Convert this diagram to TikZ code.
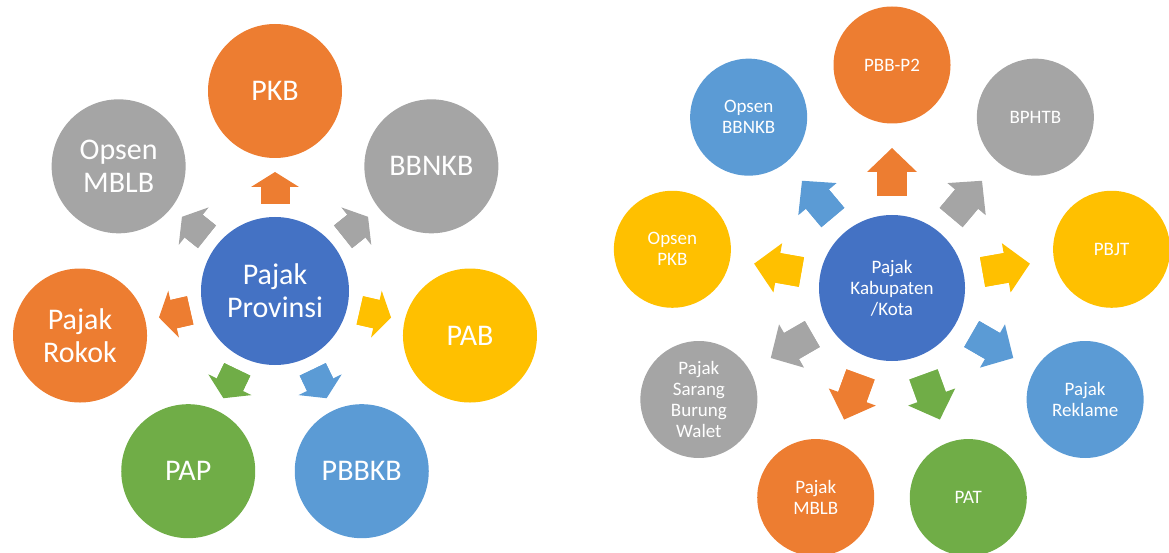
\documentclass[tikz,border=0pt]{standalone}
\usepackage{fontspec}
\setmainfont{Carlito}
\usetikzlibrary{calc,arrows.meta}

\definecolor{hubblue}{HTML}{4472C4}
\definecolor{taxorange}{HTML}{ED7D31}
\definecolor{taxgray}{HTML}{A5A5A5}
\definecolor{taxyellow}{HTML}{FFC000}
\definecolor{taxblue}{HTML}{5B9BD5}
\definecolor{taxgreen}{HTML}{70AD47}

\begin{document}
\begin{tikzpicture}[x=1pt,y=1pt,
  hub/.style={circle, fill=hubblue, text=white, align=center, inner sep=0pt},
  tax/.style={circle, text=white, align=center, inner sep=0pt},
  bigtext/.style={font=\fontsize{30}{33}\selectfont},
  smalltext/.style={font=\fontsize{19}{21}\selectfont},
  push/.style={line width=29pt, -{Triangle[length=15pt,width=48pt,line width=0pt]},
    postaction={draw, -, shorten >=12pt}},
  widepush/.style={line width=30pt, -{Triangle[length=24pt,width=50pt,line width=0pt]},
    postaction={draw, -, shorten >=19pt}}]

\useasboundingbox (0,0) rectangle (1169,552);

% Left ring: provincial taxes, seven circles round the hub
\node[hub, bigtext, minimum size=148pt] (prov) at (275,261) {Pajak\\Provinsi};

\node[tax, bigtext, minimum size=134pt, fill=taxorange] (pkb) at ($(prov)+(90:200)$) {PKB};
\node[tax, bigtext, minimum size=134pt, fill=taxgray] (bbnkb) at ($(prov)+(38.57:200)$) {BBNKB};
\node[tax, bigtext, minimum size=134pt, fill=taxyellow] (pab) at ($(prov)+(-12.86:200)$) {PAB};
\node[tax, bigtext, minimum size=134pt, fill=taxblue] (pbbkb) at ($(prov)+(-64.29:200)$) {PBBKB};
\node[tax, bigtext, minimum size=134pt, fill=taxgreen] (pap) at ($(prov)+(-115.71:200)$) {PAP};
\node[tax, bigtext, minimum size=134pt, fill=taxorange] (rokok) at ($(prov)+(-167.14:200)$) {Pajak\\Rokok};
\node[tax, bigtext, minimum size=134pt, fill=taxgray] (opmblb) at ($(prov)+(141.43:200)$) {Opsen\\MBLB};

\draw[push, taxorange] ($(prov)!87pt!(pkb)$) -- ($(prov)!119pt!(pkb)$);
\draw[push, taxgray] ($(prov)!87pt!(bbnkb)$) -- ($(prov)!119pt!(bbnkb)$);
\draw[push, taxyellow] ($(prov)!87pt!(pab)$) -- ($(prov)!119pt!(pab)$);
\draw[push, taxblue] ($(prov)!87pt!(pbbkb)$) -- ($(prov)!119pt!(pbbkb)$);
\draw[push, taxgreen] ($(prov)!87pt!(pap)$) -- ($(prov)!119pt!(pap)$);
\draw[push, taxorange] ($(prov)!87pt!(rokok)$) -- ($(prov)!119pt!(rokok)$);
\draw[push, taxgray] ($(prov)!87pt!(opmblb)$) -- ($(prov)!119pt!(opmblb)$);

% Right ring: regency / city taxes, nine circles
\node[hub, smalltext, minimum size=146pt] (kab) at (892,264) {Pajak\\Kabupaten\\/Kota};

\node[tax, smalltext, minimum size=117pt, fill=taxorange] (pbbp) at ($(kab)+(90:223)$) {PBB-P2};
\node[tax, smalltext, minimum size=117pt, fill=taxgray] (bphtb) at ($(kab)+(50:223)$) {BPHTB};
\node[tax, smalltext, minimum size=117pt, fill=taxyellow] (pbjt) at ($(kab)+(10:223)$) {PBJT};
\node[tax, smalltext, minimum size=117pt, fill=taxblue] (reklame) at ($(kab)+(-30:223)$) {Pajak\\Reklame};
\node[tax, smalltext, minimum size=117pt, fill=taxgreen] (pat) at ($(kab)+(-70:223)$) {PAT};
\node[tax, smalltext, minimum size=117pt, fill=taxorange] (mblb) at ($(kab)+(-110:223)$) {Pajak\\MBLB};
\node[tax, smalltext, minimum size=117pt, fill=taxgray] (walet) at ($(kab)+(-150:223)$) {Pajak\\Sarang\\Burung\\Walet};
\node[tax, smalltext, minimum size=117pt, fill=taxyellow] (oppkb) at ($(kab)+(170:223)$) {Opsen\\PKB};
\node[tax, smalltext, minimum size=117pt, fill=taxblue] (opbbnkb) at ($(kab)+(130:223)$) {Opsen\\BBNKB};

\draw[widepush, taxorange] ($(kab)!92pt!(pbbp)$) -- ($(kab)!140pt!(pbbp)$);
\draw[widepush, taxgray] ($(kab)!92pt!(bphtb)$) -- ($(kab)!140pt!(bphtb)$);
\draw[widepush, taxyellow] ($(kab)!92pt!(pbjt)$) -- ($(kab)!140pt!(pbjt)$);
\draw[widepush, taxblue] ($(kab)!92pt!(reklame)$) -- ($(kab)!140pt!(reklame)$);
\draw[widepush, taxgreen] ($(kab)!92pt!(pat)$) -- ($(kab)!140pt!(pat)$);
\draw[widepush, taxorange] ($(kab)!92pt!(mblb)$) -- ($(kab)!140pt!(mblb)$);
\draw[widepush, taxgray] ($(kab)!92pt!(walet)$) -- ($(kab)!140pt!(walet)$);
\draw[widepush, taxyellow] ($(kab)!92pt!(oppkb)$) -- ($(kab)!140pt!(oppkb)$);
\draw[widepush, taxblue] ($(kab)!92pt!(opbbnkb)$) -- ($(kab)!140pt!(opbbnkb)$);

\end{tikzpicture}
\end{document}
